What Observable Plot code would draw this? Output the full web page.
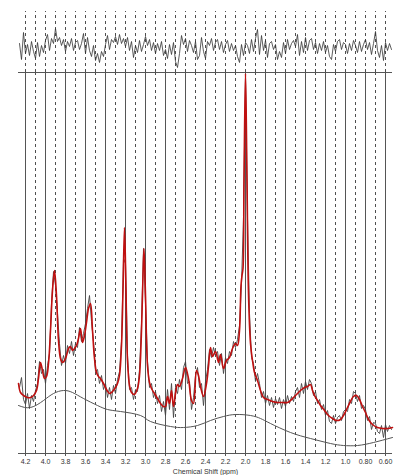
<!DOCTYPE html>
<html>
<head>
<meta charset="utf-8">
<script src="https://cdn.jsdelivr.net/npm/d3@7"></script>
<script src="https://cdn.jsdelivr.net/npm/@observablehq/plot@0.6"></script>
<style>
  html, body { margin: 0; padding: 0; background: #fff; overflow: hidden; }
  #chart svg { display: block; }
</style>
</head>
<body>
<div id="chart"></div>
<script>
// Major (labelled) and minor chemical-shift grid lines, ppm
const majorTicks = [4.2, 4.0, 3.8, 3.6, 3.4, 3.2, 3.0, 2.8, 2.6, 2.4, 2.2, 2.0, 1.8, 1.6, 1.4, 1.2, 1.0, 0.8, 0.6];
const tickLabels = ["4.2", "4.0", "3.8", "3.6", "3.4", "3.2", "3.0", "2.8", "2.6", "2.4", "2.2", "2.0", "1.8", "1.6", "1.4", "1.2", "1.0", "0.80", "0.60"];
const minorTicks = [4.1, 3.9, 3.7, 3.5, 3.3, 3.1, 2.9, 2.7, 2.5, 2.3, 2.1, 1.9, 1.7, 1.5, 1.3, 1.1, 0.9, 0.7];

// Fitted spectrum (red): chemical shift (ppm) and intensity (a.u.)
const fitPpm = [4.27,4.25,4.22,4.18,4.15,4.12,4.09,4.07,4.05,4.03,
  4.01,3.99,3.97,3.95,3.93,3.91,3.89,3.87,3.85,3.83,
  3.81,3.79,3.77,3.75,3.73,3.71,3.69,3.67,3.65,3.63,
  3.61,3.59,3.57,3.55,3.53,3.51,3.49,3.47,3.45,3.42,
  3.39,3.36,3.33,3.30,3.28,3.26,3.24,3.225,3.21,3.195,
  3.18,3.16,3.14,3.11,3.08,3.06,3.04,3.025,3.015,3.00,
  2.98,2.96,2.94,2.91,2.88,2.85,2.82,2.80,2.78,2.76,
  2.74,2.72,2.70,2.68,2.66,2.63,2.60,2.57,2.54,2.52,
  2.49,2.47,2.45,2.42,2.39,2.37,2.35,2.33,2.30,2.27,
  2.25,2.22,2.19,2.16,2.13,2.10,2.08,2.06,2.045,2.035,
  2.025,2.015,2.00,1.985,1.97,1.95,1.93,1.91,1.88,1.85,
  1.82,1.78,1.73,1.68,1.63,1.58,1.55,1.52,1.48,1.45,
  1.41,1.38,1.35,1.33,1.31,1.28,1.25,1.21,1.17,1.13,
  1.09,1.05,1.02,0.98,0.95,0.92,0.89,0.86,0.83,0.80,
  0.77,0.73,0.68,0.63,0.58,0.53];
const fitIntensity = [70,61,58,56,56,58,63,75,91,83,
  75,77,90,123,163,183,158,113,95,91,
  93,98,105,107,103,105,108,115,125,111,
  118,131,145,150,123,95,81,77,75,70,
  64,60,62,66,70,78,108,163,226,163,
  93,68,61,59,65,78,123,178,205,158,
  88,71,65,60,55,50,47,47,57,50,
  63,47,60,69,67,75,86,75,53,50,
  83,78,67,57,70,87,106,97,102,91,
  99,85,93,96,105,110,108,123,168,178,
  185,273,380,273,160,110,93,81,73,63,
  56,54,52,51,51,51,53,56,60,63,
  66,67,69,63,58,53,48,43,38,35,
  33,34,38,46,52,57,58,54,47,41,
  34,29,26,25,25,26];

// Baseline (smooth gray curve)
const basePpm = [4.27,4.15,4.02,3.92,3.82,3.73,3.62,3.48,3.38,3.25,3.05,2.95,2.75,2.62,2.48,2.35,2.22,2.10,1.95,1.85,1.75,1.55,1.35,1.15,1.02,0.88,0.72,0.53];
const baseIntensity = [48,46,53,60,63,61,55,48,44,42,38,32,27,26,28,33,37,39,38,35,30,21,15,10,8,8,11,16];

// Measured spectrum (gray), sampled every 0.02 ppm from 4.26 ppm
const sampleStart = 4.26, sampleStep = 0.02;
const measured = [66,76,54,49,60,45,58,52,63,70,
  92,80,84,70,88,100,150,182,168,140,
  110,88,98,90,108,100,112,98,110,106,
  126,112,120,130,145,158,132,112,82,84,
  70,78,64,70,56,66,54,68,60,74,
  82,112,195,190,98,64,66,54,64,62,
  84,130,205,150,92,66,70,56,62,50,
  58,42,52,38,64,44,70,36,66,60,
  74,64,86,92,70,72,44,56,78,86,
  66,70,48,72,84,104,96,106,98,102,
  88,100,80,96,90,102,98,112,106,114,
  128,170,236,378,235,140,96,90,72,80,
  70,56,62,50,58,48,56,46,55,49,
  56,45,54,47,58,50,57,52,62,66,
  56,70,60,72,64,74,70,58,62,50,
  54,44,49,38,43,32,30,38,30,36,
  38,33,42,44,42,54,50,62,60,52,
  58,45,48,44,33,37,24,31,30,22,
  20,28,16,29,22,28,24];

// Residual (top panel), same sampling
const residual = [4,-12,15,-6,3,-8,6,-4,-11,5,
  -9,2,-5,7,13,-3,9,4,19,6,
  10,2,8,-4,6,1,9,-3,5,7,
  -2,4,14,-6,10,-3,-9,2,-13,-6,
  -15,-4,-9,3,12,-2,8,5,11,3,
  13,4,9,1,10,-3,6,-10,2,-5,
  7,-4,3,11,2,8,-3,5,-6,4,
  -3,6,-8,-2,-11,3,-7,5,-14,-20,
  -6,12,3,9,-4,7,2,-5,6,-12,
  -8,10,-4,-11,6,2,9,-3,5,8,
  -2,6,-5,3,7,-4,4,-3,2,-9,
  -15,3,-8,5,2,-6,8,-4,9,18,
  -7,12,-3,7,-10,4,6,-2,3,-12,
  -4,-10,5,-6,8,-2,4,7,1,13,
  -8,6,-5,10,-3,7,9,-2,5,-6,
  4,-3,6,-5,2,-9,-12,3,-4,6,
  8,-2,5,3,-6,4,-3,7,2,-5,
  6,-4,3,8,-2,5,-7,4,16,-3,
  -10,2,-13,5,-3,4,-2];

const panelTop = 381;      // top of main spectrum panel (intensity units)
const residualCenter = 406;
const gridTop = 442;

const fitData = fitPpm.map((p, i) => ({p, v: fitIntensity[i]}));
const baseData = basePpm.map((p, i) => ({p, v: baseIntensity[i]}));
const measData = measured.map((v, i) => ({p: sampleStart - i * sampleStep, v}));
const resData = residual.map((r, i) => ({p: sampleStart - i * sampleStep, v: residualCenter + r}));

const chart = Plot.plot({
  width: 400,
  height: 475,
  marginLeft: 18,
  marginRight: 8,
  marginTop: 0,
  marginBottom: 22,
  x: {domain: [4.27, 0.53]},
  y: {domain: [0, 453], axis: null},
  style: {fontFamily: "'Liberation Sans', Arial, sans-serif", fontSize: "7px", color: "#333", background: "#fff"},
  marks: [
    Plot.ruleX(majorTicks, {y1: 0, y2: panelTop, stroke: "#555", strokeWidth: 1}),
    Plot.ruleX(minorTicks, {y1: 0, y2: panelTop, stroke: "#222", strokeWidth: 0.8, strokeDasharray: "3,3"}),
    Plot.ruleX([...majorTicks, ...minorTicks], {y1: panelTop, y2: gridTop, stroke: "#222", strokeWidth: 0.8, strokeDasharray: "3,3"}),
    Plot.ruleY([panelTop], {stroke: "#555", strokeWidth: 1.2}),
    Plot.line(resData, {x: "p", y: "v", stroke: "#333", strokeWidth: 0.8}),
    Plot.line(baseData, {x: "p", y: "v", stroke: "#555", strokeWidth: 1, curve: "natural"}),
    Plot.line(measData, {x: "p", y: "v", stroke: "#444", strokeWidth: 0.9}),
    Plot.line(fitData, {x: "p", y: "v", stroke: "#c01010", strokeWidth: 1.6, curve: "catmull-rom"}),
    Plot.ruleY([0], {stroke: "#555", strokeWidth: 1.2}),
    Plot.axisX({
      ticks: majorTicks,
      tickFormat: d => tickLabels[d3.minIndex(majorTicks, t => Math.abs(t - d))],
      tickSize: 3,
      tickPadding: 3,
      stroke: "#555",
      fill: "#333",
      label: "Chemical Shift (ppm)",
      labelAnchor: "center",
      labelOffset: 20,
      labelArrow: "none"
    })
  ]
});
document.getElementById("chart").append(chart);
</script>
</body>
</html>
